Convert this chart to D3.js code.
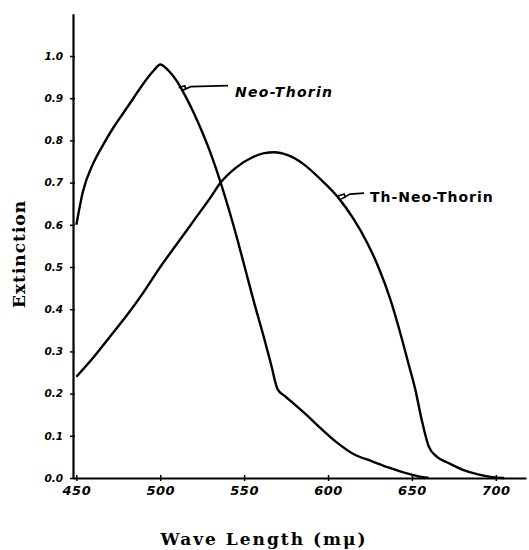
<!DOCTYPE html>
<html>
<head>
<meta charset="utf-8">
<script src="https://cdn.jsdelivr.net/npm/d3@7"></script>
<style>
  body { margin: 0; background: #fff; }
  .tick text { font-family: "DejaVu Sans", sans-serif; font-weight: bold; font-style: italic; }
</style>
</head>
<body>
<div id="chart"></div>
<script>
// data (wavelength in mμ, extinction)
const neoWave = [450, 454, 460, 466, 472, 478, 484, 490, 496, 500, 505, 510, 515, 520, 525, 530, 536, 541, 546, 551, 556, 562, 566, 570, 574, 579, 587, 595, 605, 616, 626, 636, 646, 654, 660];
const neoExt  = [0.60, 0.68, 0.745, 0.79, 0.83, 0.865, 0.9, 0.935, 0.965, 0.98, 0.965, 0.94, 0.905, 0.865, 0.82, 0.77, 0.70, 0.635, 0.565, 0.49, 0.415, 0.33, 0.27, 0.21, 0.195, 0.178, 0.15, 0.12, 0.085, 0.055, 0.04, 0.025, 0.012, 0.004, 0.0];

const thWave = [450, 460, 470, 480, 490, 500, 510, 520, 530, 536, 545, 555, 562, 568, 576, 585, 595, 606, 615, 623, 630, 637, 644, 648, 652, 656, 660, 665, 672, 680, 690, 698, 705];
const thExt  = [0.24, 0.285, 0.335, 0.385, 0.44, 0.50, 0.555, 0.61, 0.665, 0.70, 0.735, 0.76, 0.77, 0.772, 0.765, 0.745, 0.71, 0.665, 0.615, 0.56, 0.5, 0.425, 0.33, 0.27, 0.21, 0.135, 0.075, 0.05, 0.035, 0.02, 0.008, 0.002, 0.0];

const xTicks = [450, 500, 550, 600, 650, 700];
const yTicks = [0.0, 0.1, 0.2, 0.3, 0.4, 0.5, 0.6, 0.7, 0.8, 0.9, 1.0];

const width = 529, height = 550;
const x0 = 73, yBottom = 478;

const xScale = d3.scaleLinear().domain([448, 718]).range([x0, 526]);
const yScale = d3.scaleLinear().domain([0, 1.1]).range([yBottom, 13.8]);

const svg = d3.select("#chart").append("svg")
  .attr("width", width)
  .attr("height", height);

// axes
const xAxis = svg.append("g")
  .attr("transform", `translate(0,${yBottom})`)
  .call(d3.axisBottom(xScale).tickValues(xTicks).tickSize(3).tickSizeOuter(0));
xAxis.select(".domain").attr("stroke-width", 2.2);
xAxis.selectAll(".tick line").attr("stroke-width", 1.5).attr("y1", -3);
xAxis.selectAll(".tick text").attr("font-size", 13).attr("dy", "0.85em").attr("letter-spacing", 0.5);

const yAxis = svg.append("g")
  .attr("transform", `translate(${x0},0)`)
  .call(d3.axisLeft(yScale).tickValues(yTicks).tickSize(3).tickSizeOuter(0)
    .tickFormat(d3.format(".1f")));
yAxis.select(".domain").attr("stroke-width", 2.2);
yAxis.selectAll(".tick line").attr("stroke-width", 1.5).attr("x1", 2);
yAxis.selectAll(".tick text").attr("font-size", 10.5).attr("x", -10);

// curves
const line = d3.line()
  .x(d => xScale(d[0]))
  .y(d => yScale(d[1]))
  .curve(d3.curveMonotoneX);

svg.append("path")
  .datum(d3.zip(neoWave, neoExt))
  .attr("fill", "none")
  .attr("stroke", "#000")
  .attr("stroke-width", 2.4)
  .attr("d", line);

svg.append("path")
  .datum(d3.zip(thWave, thExt))
  .attr("fill", "none")
  .attr("stroke", "#000")
  .attr("stroke-width", 2.4)
  .attr("d", line);

// leaders and curve labels
const leader = (xa, ya, xb, yb) =>
  `M${xa},${ya} L${xa + 6},${ya - 2} L${xa + 7},${ya + 1} L${xa + 3},${ya + 3} L${xa + 12},${yb + 1} L${xb},${yb}`;
svg.append("path")
  .attr("d", leader(xScale(511), yScale(0.925), 228, yScale(0.925) - 2))
  .attr("fill", "none").attr("stroke", "#000").attr("stroke-width", 1.6);
svg.append("path")
  .attr("d", leader(xScale(606), yScale(0.668), 364, yScale(0.668) - 3))
  .attr("fill", "none").attr("stroke", "#000").attr("stroke-width", 1.6);

svg.append("text")
  .attr("x", 235).attr("y", 97)
  .attr("font-family", "DejaVu Sans, sans-serif")
  .attr("font-weight", "bold").attr("font-style", "italic")
  .attr("font-size", 14)
  .attr("letter-spacing", 1.3)
  .text("Neo-Thorin");

svg.append("text")
  .attr("x", 370).attr("y", 202)
  .attr("font-family", "DejaVu Sans, sans-serif")
  .attr("font-weight", "bold")
  .attr("font-size", 14)
  .attr("letter-spacing", 1)
  .text("Th-Neo-Thorin");

// axis titles
svg.append("text")
  .attr("transform", `translate(25,${254}) rotate(-90)`)
  .attr("text-anchor", "middle")
  .attr("font-family", "DejaVu Serif, serif")
  .attr("font-weight", "bold")
  .attr("font-size", 17)
  .attr("letter-spacing", 1)
  .text("Extinction");

svg.append("text")
  .attr("x", 264).attr("y", 545)
  .attr("text-anchor", "middle")
  .attr("font-family", "DejaVu Serif, serif")
  .attr("font-weight", "bold")
  .attr("font-size", 17)
  .attr("letter-spacing", 2)
  .text("Wave Length (mμ)");
</script>
</body>
</html>
